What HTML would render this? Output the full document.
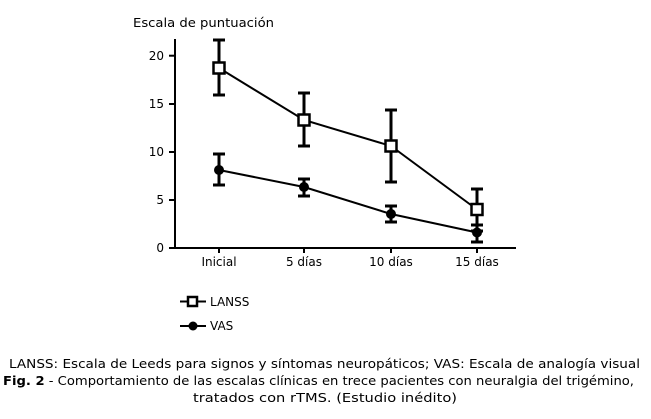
<!DOCTYPE html>
<html><head><meta charset="utf-8"><style>
html,body{margin:0;padding:0;background:#fff}
svg{display:block}
text{font-family:"DejaVu Sans","Liberation Sans",sans-serif;fill:#000}
</style></head><body>
<svg width="651" height="419" viewBox="0 0 651 419" xmlns="http://www.w3.org/2000/svg">
<text x="133" y="27" font-size="12" textLength="141" lengthAdjust="spacingAndGlyphs">Escala de puntuación</text>
<g stroke="#000" stroke-width="2" fill="none">
<line x1="175" y1="39" x2="175" y2="249"/>
<line x1="174" y1="248" x2="516" y2="248"/>
<line x1="169" y1="55.7" x2="175" y2="55.7"/>
<line x1="169" y1="104" x2="175" y2="104"/>
<line x1="169" y1="152" x2="175" y2="152"/>
<line x1="169" y1="200" x2="175" y2="200"/>
<line x1="169" y1="248" x2="175" y2="248"/>
<line x1="219" y1="248" x2="219" y2="253"/>
<line x1="304" y1="248" x2="304" y2="253"/>
<line x1="391" y1="248" x2="391" y2="253"/>
<line x1="477" y1="248" x2="477" y2="253"/>
</g>
<g font-size="12" text-anchor="end">
<text x="164" y="60">20</text><text x="164" y="108">15</text><text x="164" y="156">10</text><text x="164" y="204">5</text><text x="164" y="252">0</text>
</g>
<g font-size="12" text-anchor="middle">
<text x="219" y="266">Inicial</text><text x="304" y="266">5 días</text><text x="391" y="266">10 días</text><text x="477" y="266">15 días</text>
</g>
<g stroke="#000" stroke-width="3" fill="none">
<path d="M219 40V95M213 40h12M213 95h12"/>
<path d="M304 93V146M298 93h12M298 146h12"/>
<path d="M391 110V182M385 110h12M385 182h12"/>
<path d="M477 189V231M471 189h12M471 231h12"/>
<path d="M219 154V185M213 154h12M213 185h12"/>
<path d="M304 179V196M298 179h12M298 196h12"/>
<path d="M391 206V222M385 206h12M385 222h12"/>
<path d="M477 225V242M471 225h12M471 242h12"/>
</g>
<g stroke="#000" stroke-width="2" fill="none">
<polyline points="219,68 304,120 391,146 477,209.5"/>
<polyline points="219,170 304,187 391,214 477,232.5"/>
</g>
<g stroke="#000" stroke-width="2.5" fill="#fff">
<rect x="213.5" y="62.5" width="11" height="11"/>
<rect x="298.5" y="114.5" width="11" height="11"/>
<rect x="385.5" y="140.5" width="11" height="11"/>
<rect x="471.5" y="204" width="11" height="11"/>
</g>
<g fill="#000">
<circle cx="219" cy="170" r="5"/><circle cx="304" cy="187" r="5"/><circle cx="391" cy="214" r="5"/><circle cx="477" cy="232.5" r="5"/>
</g>
<line x1="180" y1="301.5" x2="206" y2="301.5" stroke="#000" stroke-width="2"/>
<rect x="188" y="297" width="9" height="9" fill="#fff" stroke="#000" stroke-width="2.5"/>
<text x="210" y="306" font-size="12">LANSS</text>
<line x1="180" y1="326" x2="206" y2="326" stroke="#000" stroke-width="2"/>
<circle cx="193" cy="326" r="4.5" fill="#000"/>
<text x="210" y="330" font-size="12">VAS</text>
<text x="9" y="368" font-size="12" textLength="631" lengthAdjust="spacingAndGlyphs">LANSS: Escala de Leeds para signos y síntomas neuropáticos; VAS: Escala de analogía visual</text>
<text x="3" y="385" font-size="12" textLength="631" lengthAdjust="spacingAndGlyphs"><tspan font-weight="bold">Fig. 2</tspan> - Comportamiento de las escalas clínicas en trece pacientes con neuralgia del trigémino,</text>
<text x="193" y="402" font-size="12" textLength="264" lengthAdjust="spacingAndGlyphs">tratados con rTMS. (Estudio inédito)</text>
</svg>
</body></html>
